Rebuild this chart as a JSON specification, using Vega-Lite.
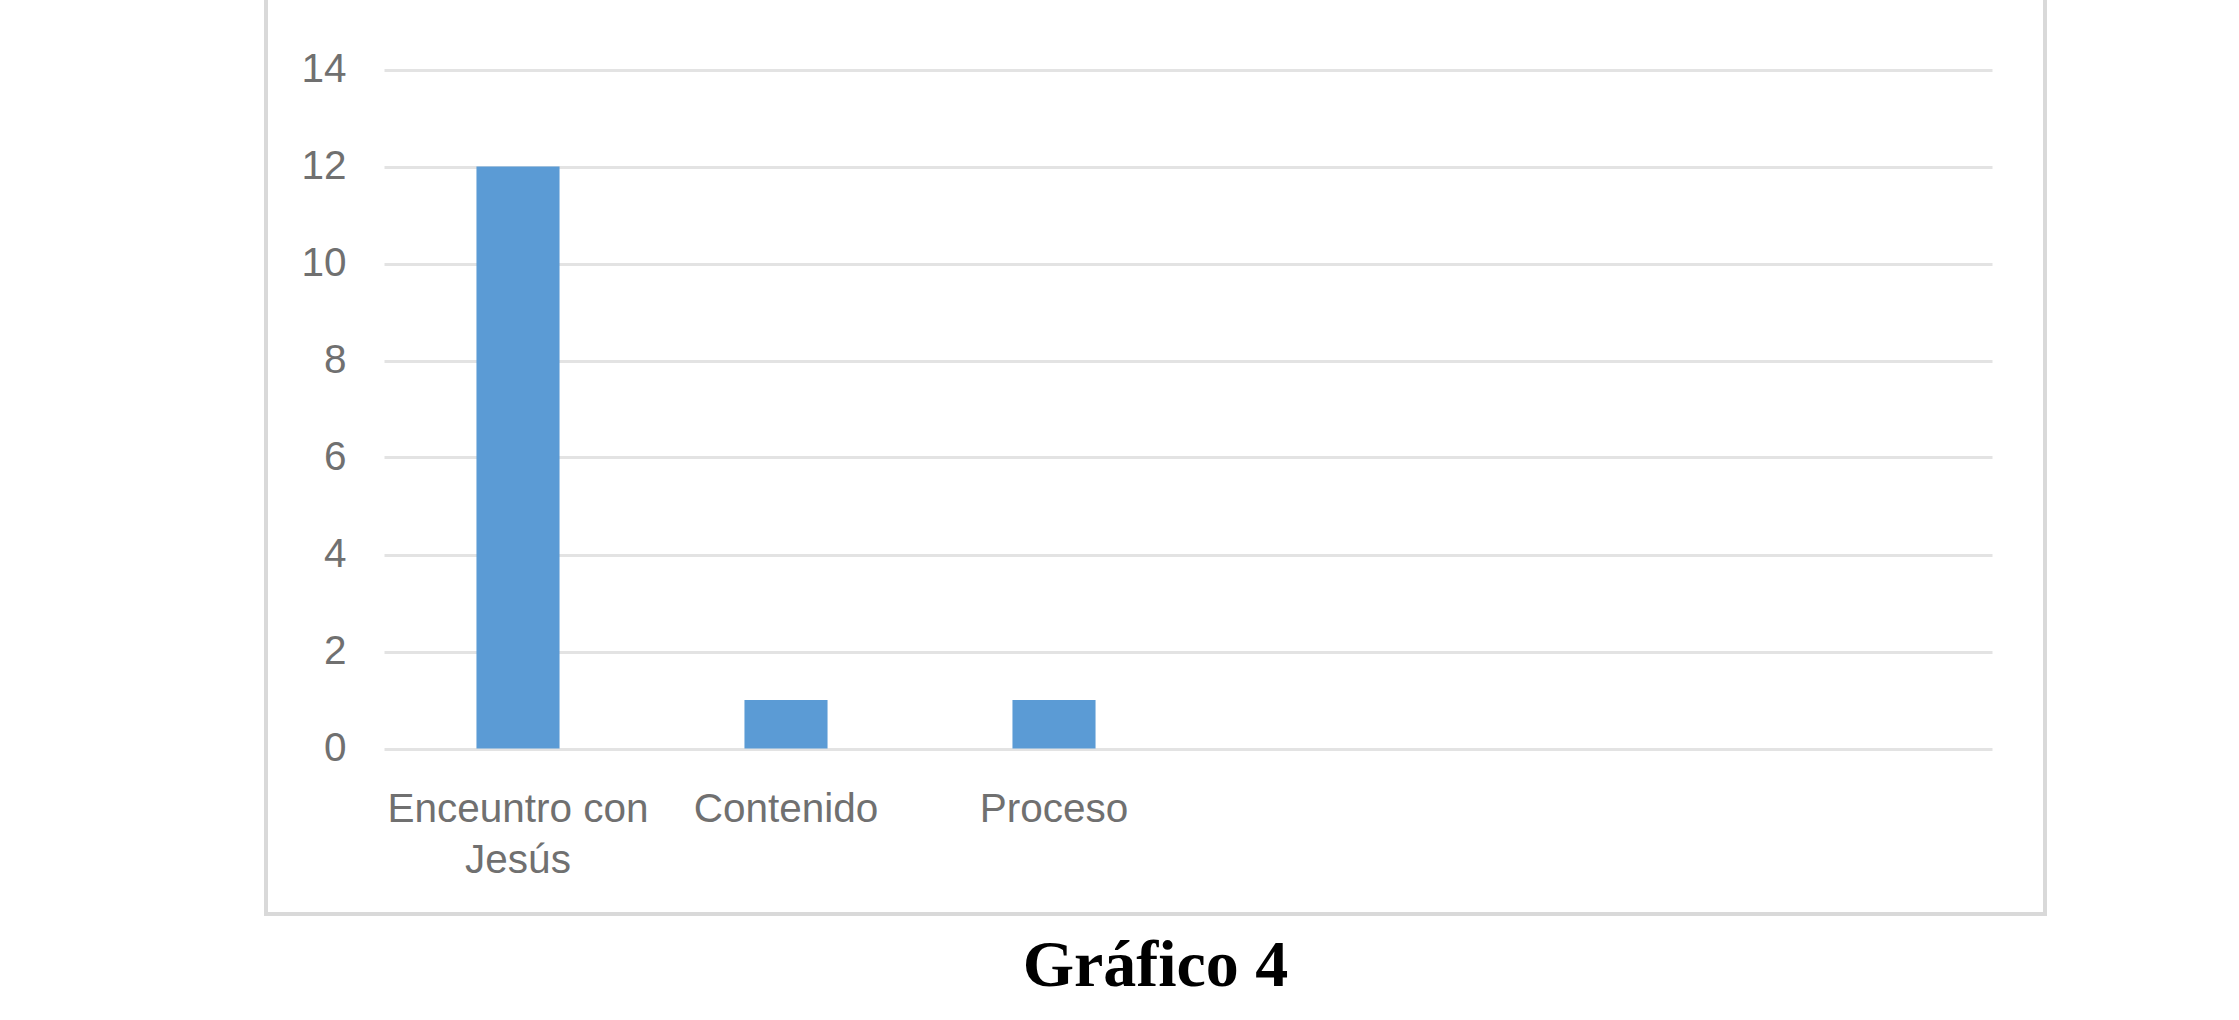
{
  "$schema": "https://vega.github.io/schema/vega-lite/v6.json",
  "width": 1779,
  "height": 917,
  "autosize": {"type": "none"},
  "padding": {"left": 266, "top": -3, "right": 194, "bottom": 106},
  "background": "#ffffff",
  "data": {
    "values": [
      {"categoria": "Enceuntro con Jesús", "valor": 12},
      {"categoria": "Contenido", "valor": 1},
      {"categoria": "Proceso", "valor": 1}
    ]
  },
  "title": {
    "text": "Gráfico 4",
    "orient": "bottom",
    "anchor": "middle",
    "font": "Liberation Serif",
    "fontSize": 66,
    "fontWeight": "bold",
    "color": "#000000",
    "offset": 20
  },
  "mark": {"type": "bar", "color": "#5b9bd5"},
  "encoding": {
    "x": {
      "field": "categoria",
      "type": "nominal",
      "sort": null,
      "scale": {
        "domain": ["Enceuntro con Jesús", "Contenido", "Proceso", " ", "  ", "   "],
        "range": [118, 1726],
        "paddingInner": 0.69,
        "paddingOuter": 0.345
      },
      "axis": {
        "title": null,
        "domain": false,
        "ticks": false,
        "tickSize": 0,
        "grid": false,
        "offset": -165.5,
        "labelPadding": 40.5,
        "labelAngle": 0,
        "labelBaseline": "top",
        "labelFont": "Liberation Sans",
        "labelFontSize": 40.5,
        "labelColor": "#707070",
        "labelLimit": 600,
        "labelOverlap": false,
        "labelFlush": false,
        "labelLineHeight": 51,
        "labelExpr": "datum.value == 'Enceuntro con Jesús' ? ['Enceuntro con', 'Jesús'] : datum.label"
      }
    },
    "y": {
      "field": "valor",
      "type": "quantitative",
      "scale": {"domain": [0, 14], "range": [751.5, 72.5], "nice": false, "zero": true},
      "axis": {
        "title": null,
        "domain": false,
        "ticks": false,
        "tickSize": 0,
        "values": [0, 2, 4, 6, 8, 10, 12, 14],
        "grid": true,
        "gridColor": "#e3e3e3",
        "gridWidth": 3,
        "labelPadding": -80,
        "labelAlign": "right",
        "labelBaseline": "middle",
        "labelFont": "Liberation Sans",
        "labelFontSize": 40.5,
        "labelColor": "#707070"
      }
    }
  },
  "config": {
    "view": {"stroke": "#d9d9d9", "strokeWidth": 4, "fill": "#ffffff"}
  }
}
